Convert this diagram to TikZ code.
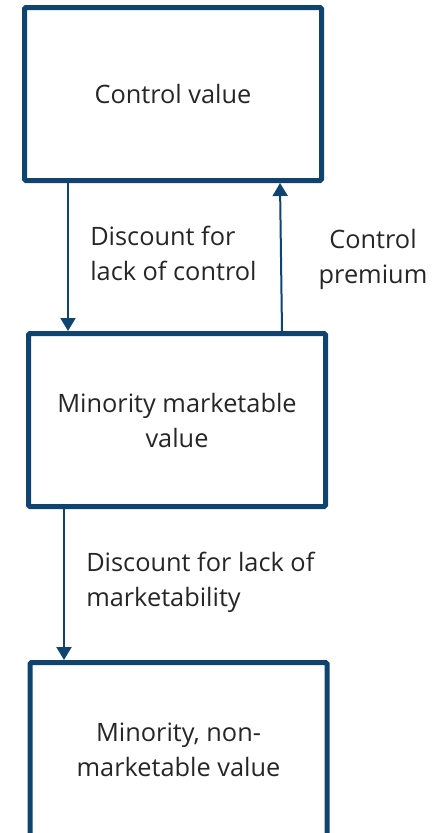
\documentclass[tikz,border=0pt]{standalone}
\usepackage{fontspec}
\setmainfont{Open Sans}
\usetikzlibrary{arrows.meta,calc}
\definecolor{navy}{RGB}{16,68,112}
\definecolor{txt}{RGB}{38,38,38}
\begin{document}
\begin{tikzpicture}[x=0.75pt,y=-0.75pt,
  box/.style={draw=navy,line width=3.75pt,rounded corners=1pt,inner sep=0pt,outer sep=1.875pt,
    minimum width=222.75pt,minimum height=129.75pt,align=center,text=txt,
    font=\fontsize{19}{26.25}\selectfont},
  lbl/.style={text=txt,inner sep=0pt,font=\fontsize{19}{26.25}\selectfont},
  arr/.style={draw=navy,line width=1.5pt,-{Triangle[width=11.25pt,length=9.75pt]}}]
\useasboundingbox (0,0) rectangle (446,833);
\clip (0,0) rectangle (446,833);
\node[box] (top) at (173,94) {Control value};
\node[box] (mid) at (177,420) {Minority marketable\\value};
\node[box,minimum height=131.25pt] (bot) at (178.5,750) {Minority, non-\\marketable value};
\draw[arr] ($(top.south)+(-105,0)$) -- ($(mid.north)+(-109,0)$);
\draw[arr] ($(mid.north)+(105,0)$) -- ($(top.south)+(107,0)$);
\draw[arr] ($(mid.south)+(-113,0)$) -- ($(bot.north)+(-114.5,0)$);
\node[lbl,align=left,anchor=west] (l1) at (90,253.5) {Discount for\\lack of control};
\node[lbl,align=center] (l2) at (373,259.5) {Control\\premium};
\node[lbl,align=left,anchor=west] (l3) at (86,582) {Discount for lack of\\marketability};
\end{tikzpicture}
\end{document}
